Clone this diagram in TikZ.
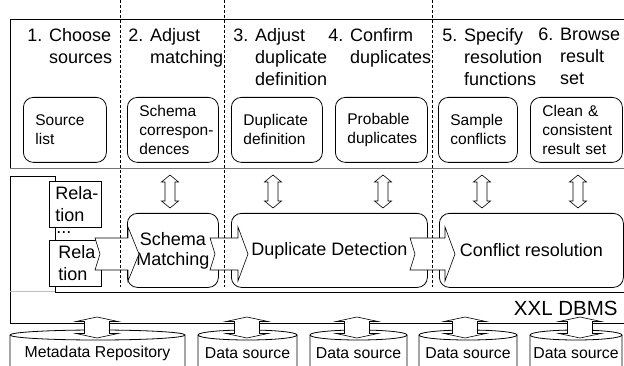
\documentclass[tikz,border=0pt]{standalone}
\usepackage{fontspec}
\setmainfont{Liberation Sans}
\hyphenpenalty=10000
\exhyphenpenalty=10000
\begin{document}
\begin{tikzpicture}[x=1pt,y=-1pt,line width=0.8pt,
    steplabel/.style={anchor=north west,align=left,inner sep=0pt,font=\fontsize{18}{22}\selectfont},
    taskbox/.style={draw,rounded corners=10pt,anchor=north west,align=left,inner xsep=12pt,inner ysep=0pt,minimum height=65pt,font=\fontsize{15.5}{19}\selectfont},
    compbox/.style={draw,rounded corners=10pt,anchor=north west,align=center,inner sep=0pt,minimum height=74pt,font=\fontsize{18}{20}\selectfont},
    relbox/.style={draw,fill=white,anchor=north west,align=left,inner sep=0pt,minimum width=52pt,minimum height=46pt,font=\fontsize{18}{22}\selectfont},
    fatarrow/.style={draw,fill=white,line width=0.6pt},
    srctext/.style={inner sep=0pt,font=\fontsize{15.8}{19}\selectfont}]
  \useasboundingbox (0,0) rectangle (624,366);
  \clip (0,0) rectangle (624,366);
  \draw (640,19) -- (10,19) -- (10,168);
  \draw[black!55] (10,168) -- (640,168);
  \draw (640,292) -- (55,292) -- (55,176) -- (10,176) -- (10,323) -- (640,323);
  \draw[black!25] (10,291) -- (55,291);

  \node[steplabel] (step1) at (27,28) {1. Choose\\\phantom{1. }sources};
  \node[steplabel] (step2) at (128,28) {2. Adjust\\\phantom{2. }matching};
  \node[steplabel] (step3) at (233,28) {3. Adjust\\\phantom{3. }duplicate\\\phantom{3. }definition};
  \node[steplabel] (step4) at (328,28) {4. Confirm\\\phantom{4. }duplicates};
  \node[steplabel] (step5) at (442,28) {5. Specify\\\phantom{5. }resolution\\\phantom{5. }functions};
  \node[steplabel] (step6) at (538,28) {6. Browse\\\phantom{6. }result\\\phantom{6. }set};

  \node[taskbox,text width=59pt] (srclist) at (23,97) {Source\\list};
  \node[taskbox,text width=67pt] (corr) at (127,97) {Schema\\correspon-\\dences};
  \node[taskbox,text width=67pt] (dupdef) at (231,97) {Duplicate\\definition};
  \node[taskbox,text width=68pt] (probdup) at (335,97) {Probable\\duplicates};
  \node[taskbox,text width=55pt] (sample) at (438,97) {Sample\\conflicts};
  \node[taskbox,text width=68pt] (result) at (530,97) {Clean \&\\consistent\\result set};

  \node[compbox,minimum width=91pt] (match) at (127,213) {Schema\\Matching};
  \node[compbox,minimum width=196pt] (dupdet) at (231,213) {Duplicate Detection};
  \node[compbox,minimum width=184pt] (confres) at (439,213) {Conflict resolution};

  \node[relbox] (rel1) at (49,181) {\hspace*{3pt}Rela-\\\hspace*{3pt}tion};
  \node[relbox] (rel2) at (49,240) {\hspace*{3pt}Rela\\\hspace*{3pt}tion};
  \node[anchor=base west,inner sep=0pt,text height=3pt,text depth=0pt,font=\fontsize{18}{22}\selectfont] (dots) at (56,234) {...};

  \foreach \t/\h/\p in {95/128/139,210/238/248,410/445/455}
    \draw[fatarrow] (\t,238) -- (\h,238) -- (\h,227) -- (\p,254) -- (\h,281) -- (\h,270) -- (\t,270) -- (\t+5,254) -- cycle;

  \foreach \x in {170,273,383,482,578}
    \draw[fatarrow] (\x,175) -- ++(8.5,7) -- ++(-3.5,0) -- ++(0,19) -- ++(3.5,0) -- ++(-8.5,7)
      -- ++(-8.5,-7) -- ++(3.5,0) -- ++(0,-19) -- ++(-3.5,0) -- cycle;

  \foreach \l/\r/\n/\s in {10/185/meta/Metadata Repository,198/297/src1/Data source,310/407/src2/Data source,419/517/src3/Data source,530/622/src4/Data source}{
    \draw[fill=white] (\l,372) -- (\l,335) arc[start angle=180,end angle=360,x radius={(\r-\l)/2},y radius=5] -- (\r,372);
    \draw (\l,335) arc[start angle=180,end angle=0,x radius={(\r-\l)/2},y radius=5];
    \node[srctext] (\n) at ({(\l+\r)/2},353) {\s};
  }

  \foreach \x in {97,247,357,465,580}
    \draw[fatarrow] (\x,317) -- ++(21,4.5) -- ++(-8.5,0) -- ++(0,12) -- ++(8.5,0) -- ++(-21,4.5)
      -- ++(-21,-4.5) -- ++(8.5,0) -- ++(0,-12) -- ++(-8.5,0) -- cycle;

  \node[anchor=east,inner sep=0pt,font=\fontsize{20.5}{24}\selectfont] (dbms) at (618,308) {XXL DBMS};

  \foreach \x in {120,224,432}
    \draw[dash pattern=on 3pt off 2pt,line width=0.6pt] (\x,0) -- (\x,287);
\end{tikzpicture}
\end{document}
